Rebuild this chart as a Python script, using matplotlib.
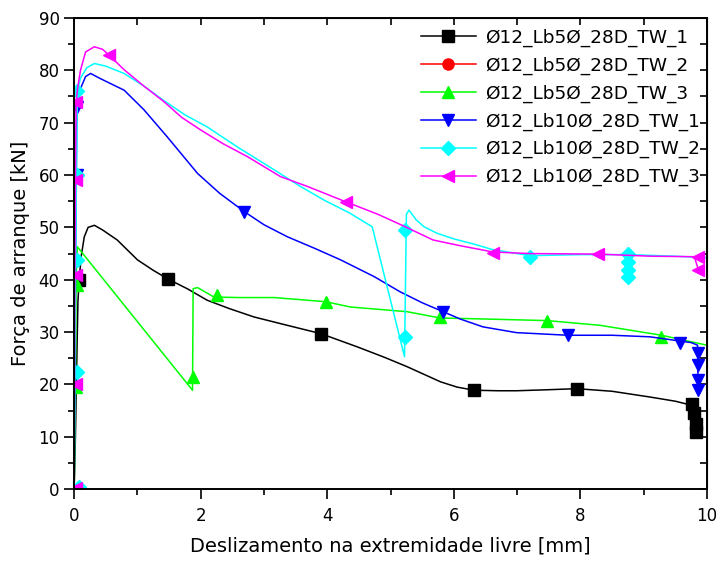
import numpy as np
import matplotlib.pyplot as plt
from matplotlib.ticker import MultipleLocator

# slip [mm] and pull-out force [kN]
tw1_5_x = [0.0, 0.02, 0.03, 0.04, 0.05, 0.06, 0.08, 0.11, 0.16, 0.22, 0.32, 0.45, 0.68, 1.0, 1.25, 1.49, 1.8, 2.1,
           2.45, 2.84, 3.3, 3.9, 4.47, 4.9, 5.26, 5.79, 6.05, 6.32, 6.7, 6.99, 7.5, 7.94, 8.5, 9.1, 9.5, 9.7, 9.76, 9.82]
tw1_5_y = [0.0, 10.0, 17.0, 23.4, 30.0, 36.0, 40.0, 44.4, 48.2, 50.0, 50.4, 49.5, 47.6, 43.8, 41.8, 40.1, 38.2, 36.1,
           34.5, 32.9, 31.5, 29.7, 27.2, 25.2, 23.4, 20.5, 19.5, 18.9, 18.8, 18.8, 19.0, 19.2, 18.7, 17.6, 16.8, 16.2, 14.0, 11.0]
tw1_5_mx = [0.08, 1.49, 3.9, 6.32, 7.94, 9.76, 9.8, 9.82, 9.83]
tw1_5_my = [40.0, 40.1, 29.7, 18.9, 19.2, 16.2, 14.5, 12.5, 11.0]

tw2_5_x = []
tw2_5_y = []

tw3_5_x = [0.0, 0.02, 0.03, 0.05, 1.87, 1.88, 1.95, 2.05, 2.21, 2.6, 3.16, 3.98, 4.36, 5.26, 5.78, 6.5, 7.47, 8.31, 9.28, 10.0]
tw3_5_y = [0.0, 18.0, 40.0, 46.3, 18.9, 38.3, 38.5, 37.8, 36.7, 36.6, 36.6, 35.8, 34.8, 33.9, 32.7, 32.5, 32.2, 31.3, 29.4, 27.5]
tw3_5_mx = [0.03, 0.04, 1.87, 2.25, 3.98, 5.78, 7.47, 9.28]
tw3_5_my = [19.5, 39.0, 21.5, 37.0, 35.8, 32.9, 32.2, 29.0]

tw1_10_x = [0.0, 0.02, 0.04, 0.06, 0.1, 0.18, 0.26, 0.4, 0.79, 1.1, 1.47, 1.95, 2.3, 2.69, 3.0, 3.37, 3.8, 4.21,
            4.74, 5.15, 5.5, 5.83, 6.1, 6.46, 6.99, 7.8, 8.5, 9.1, 9.57, 9.75, 9.85, 9.86]
tw1_10_y = [0.0, 40.0, 70.0, 74.0, 76.5, 78.8, 79.4, 78.5, 76.2, 72.5, 67.3, 60.3, 56.5, 53.0, 50.5, 48.2, 46.0, 43.8,
            40.6, 37.7, 35.6, 33.9, 32.5, 31.0, 29.9, 29.4, 29.4, 29.1, 28.3, 28.0, 27.5, 18.5]
tw1_10_mx = [0.05, 0.05, 2.69, 5.83, 7.8, 9.57, 9.86, 9.86, 9.86, 9.86]
tw1_10_my = [73.0, 60.0, 53.0, 33.9, 29.4, 27.9, 26.0, 23.7, 20.8, 18.9]

tw2_10_x = [0.0, 0.02, 0.05, 0.1, 0.2, 0.32, 0.5, 0.79, 1.1, 1.42, 1.75, 2.1, 2.6, 3.16, 3.55, 3.95, 4.36, 4.71,
            5.22, 5.25, 5.29, 5.4, 5.53, 5.73, 6.0, 6.32, 6.6, 7.2, 8.0, 8.75, 9.5, 10.0]
tw2_10_y = [0.0, 40.0, 76.0, 78.5, 80.5, 81.3, 80.8, 79.4, 77.0, 74.2, 71.5, 69.2, 65.2, 61.0, 58.0, 55.2, 52.7, 50.1,
            25.3, 52.5, 53.3, 51.5, 50.1, 48.9, 47.8, 46.8, 45.8, 44.6, 44.8, 44.8, 44.5, 44.2]
tw2_10_mx = [0.05, 0.05, 0.05, 0.05, 0.07, 5.23, 5.23, 7.2, 8.75, 8.75, 8.75, 8.75]
tw2_10_my = [76.0, 60.0, 43.8, 22.4, 0.5, 29.1, 49.5, 44.4, 45.0, 43.3, 41.8, 40.5]

tw3_10_x = [0.0, 0.01, 0.03, 0.06, 0.1, 0.18, 0.32, 0.45, 0.55, 0.8, 1.1, 1.42, 1.7, 2.0, 2.35, 2.74, 3.26, 3.69,
            4.29, 4.8, 5.2, 5.67, 6.1, 6.62, 7.2, 8.28, 9.1, 9.8, 9.86]
tw3_10_y = [0.0, 40.0, 74.0, 77.0, 80.0, 83.5, 84.5, 84.0, 82.9, 80.0, 77.0, 74.0, 71.0, 68.6, 66.0, 63.5, 59.7, 57.8,
            54.9, 52.5, 50.3, 47.6, 46.5, 45.3, 45.0, 44.9, 44.5, 44.4, 42.0]
tw3_10_mx = [0.03, 0.03, 0.03, 0.03, 0.03, 0.55, 4.29, 6.62, 8.28, 9.85, 9.86]
tw3_10_my = [74.0, 59.0, 41.0, 20.0, 0.3, 82.9, 54.9, 45.2, 44.9, 44.3, 41.8]

series = [
    ("Ø12_Lb5Ø_28D_TW_1", tw1_5_x, tw1_5_y, tw1_5_mx, tw1_5_my, "black", "s"),
    ("Ø12_Lb5Ø_28D_TW_2", tw2_5_x, tw2_5_y, tw2_5_x, tw2_5_y, "red", "o"),
    ("Ø12_Lb5Ø_28D_TW_3", tw3_5_x, tw3_5_y, tw3_5_mx, tw3_5_my, "#00ff00", "^"),
    ("Ø12_Lb10Ø_28D_TW_1", tw1_10_x, tw1_10_y, tw1_10_mx, tw1_10_my, "blue", "v"),
    ("Ø12_Lb10Ø_28D_TW_2", tw2_10_x, tw2_10_y, tw2_10_mx, tw2_10_my, "cyan", "D"),
    ("Ø12_Lb10Ø_28D_TW_3", tw3_10_x, tw3_10_y, tw3_10_mx, tw3_10_my, "magenta", "<"),
]

fig = plt.figure(figsize=(7.2, 5.61), dpi=100)
ax = fig.add_axes([0.103, 0.128, 0.879, 0.84])

handles = []
for label, x, y, mx, my, c, m in series:
    ms = 7 if m == "D" else 8
    ax.plot(x, y, color=c, lw=1.1)
    ax.plot(mx, my, ls="none", marker=m, color=c, ms=ms, mec=c)
    h, = ax.plot([], [], color=c, lw=1.1, marker=m, ms=ms, label=label)
    handles.append(h)

ax.set_xlim(0, 10)
ax.set_ylim(0, 90)
ax.xaxis.set_major_locator(MultipleLocator(2))
ax.xaxis.set_minor_locator(MultipleLocator(1))
ax.yaxis.set_major_locator(MultipleLocator(10))
ax.yaxis.set_minor_locator(MultipleLocator(5))
# bottom / left ticks point outwards
ax.tick_params(which="both", direction="out", width=1.2, labelsize=12)
ax.tick_params(which="major", length=7)
ax.tick_params(which="minor", length=4.5)
ax.tick_params(axis="x", which="both", pad=6)
ax.tick_params(axis="y", which="both", pad=3.5)
for s in ax.spines.values():
    s.set_linewidth(1.4)

# top / right ticks point inwards
top = ax.secondary_xaxis("top")
top.xaxis.set_major_locator(MultipleLocator(1))
top.tick_params(direction="in", length=5, width=1.2, labeltop=False)
right = ax.secondary_yaxis("right")
right.yaxis.set_major_locator(MultipleLocator(5))
right.tick_params(direction="in", length=5, width=1.2, labelright=False)

ax.set_xlabel("Deslizamento na extremidade livre [mm]", fontsize=14, labelpad=8)
ax.set_ylabel("Força de arranque [kN]", fontsize=14, labelpad=6)

ax.legend(handles=handles, loc="upper right", bbox_to_anchor=(0.995, 0.985), frameon=False,
          fontsize=13.3, handlelength=3.0, handletextpad=0.5, labelspacing=0.52,
          borderaxespad=0.0, borderpad=0.2)

fig.savefig("out.png", dpi=100)
